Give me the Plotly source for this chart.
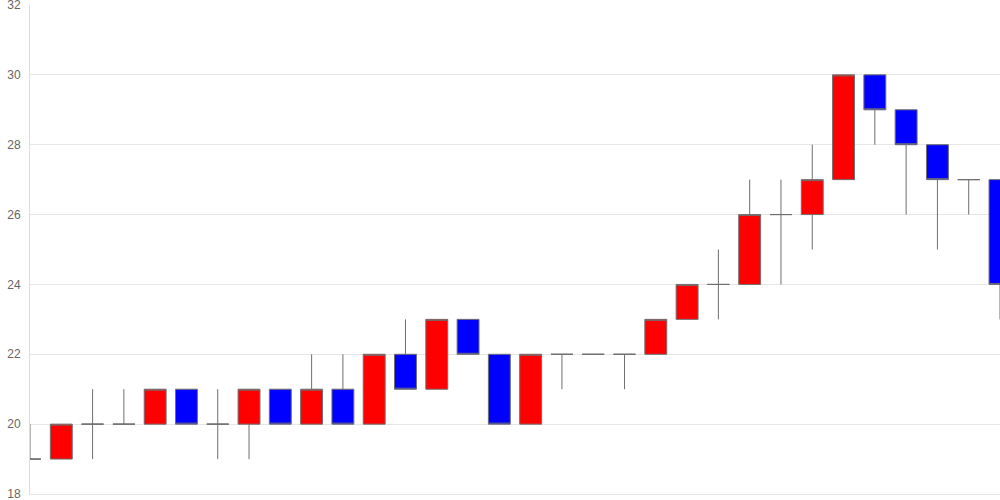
import plotly.graph_objects as go

idx = list(range(32))
opens  = [19, 19, 20, 20, 20, 21, 20, 20, 21, 20, 21, 20, 22, 21, 23, 22,
          20, 22, 22, 22, 22, 23, 24, 24, 26, 26, 27, 30, 29, 28, 27, 27]
closes = [19, 20, 20, 20, 21, 20, 20, 21, 20, 21, 20, 22, 21, 23, 22, 20,
          22, 22, 22, 22, 23, 24, 24, 26, 26, 27, 30, 29, 28, 27, 27, 24]
highs  = [20, 20, 21, 21, 21, 21, 21, 21, 21, 22, 22, 22, 23, 23, 23, 22,
          22, 22, 22, 22, 23, 24, 25, 27, 27, 28, 30, 30, 29, 28, 27, 27]
lows   = [19, 19, 19, 20, 20, 20, 19, 19, 20, 20, 20, 20, 21, 21, 22, 20,
          20, 21, 22, 21, 22, 23, 23, 24, 24, 25, 27, 28, 26, 25, 26, 23]
y_ticks = [18, 20, 22, 24, 26, 28, 30, 32]

fig = go.Figure(go.Candlestick(
    x=idx, open=opens, high=highs, low=lows, close=closes,
    increasing=dict(fillcolor="#ff0000", line=dict(color="#6f6f6f", width=1)),
    decreasing=dict(fillcolor="#0000ff", line=dict(color="#6f6f6f", width=1)),
    whiskerwidth=0,
    hoverinfo="skip",
))

fig.update_layout(
    width=1000, height=500,
    margin=dict(l=30, r=0, t=5, b=6, autoexpand=False),
    paper_bgcolor="white", plot_bgcolor="white",
    showlegend=False,
    boxgap=0.3, boxgroupgap=0,
    font=dict(family="Liberation Sans, Arial, sans-serif", size=12, color="#666666"),
    xaxis=dict(range=[0, 31], showticklabels=False, showgrid=False, zeroline=False,
               rangeslider=dict(visible=False), showline=True, linecolor="#e6e6e6",
               linewidth=1, ticks="", automargin=False),
    yaxis=dict(range=[18, 32], tickvals=y_ticks, showgrid=True, gridcolor="#e6e6e6",
               gridwidth=1, zeroline=False, showline=True, linecolor="#dddddd",
               linewidth=1, ticks="", ticklabelstandoff=6, automargin=False,
               ticklabeloverflow="allow"),
)

fig.write_html("out.html", config={"displayModeBar": False, "staticPlot": True},
               post_script="document.body.style.margin='0';")
